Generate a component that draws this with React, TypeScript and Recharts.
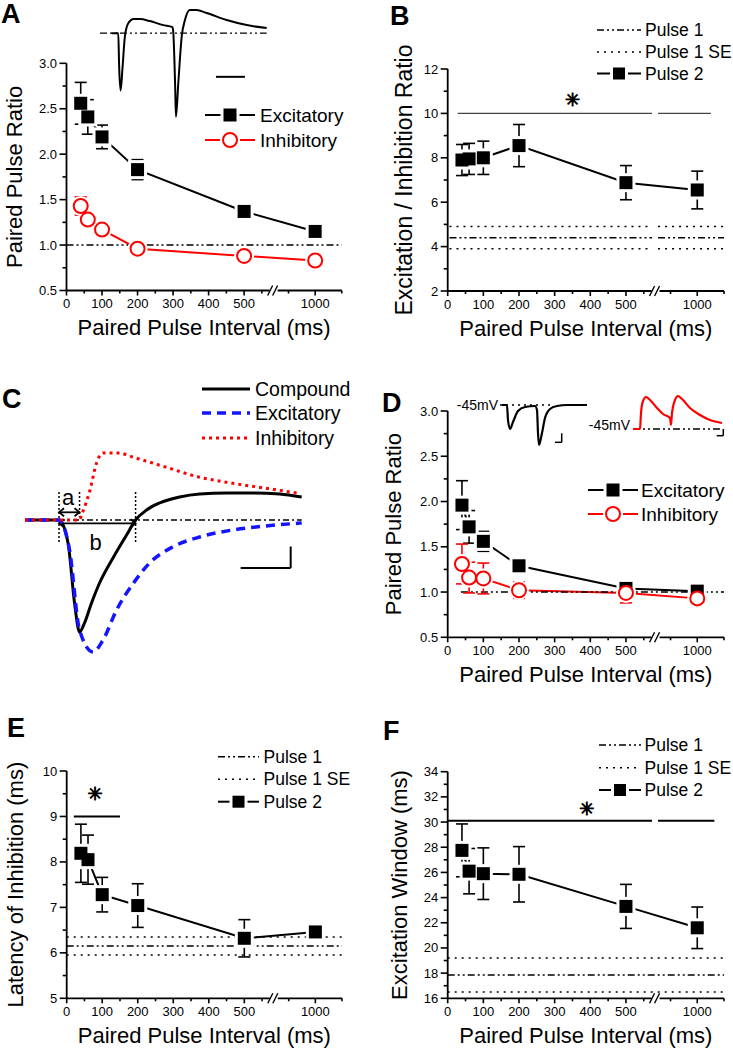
import React from "react";
import { ComposedChart, LineChart, Line, XAxis, YAxis, ErrorBar, ReferenceLine, ReferenceDot, ReferenceArea } from "recharts";

const FONT = '"Liberation Sans", Arial, Helvetica, sans-serif';
const RED = "#ff0000";
const BLUE = "#1414ff";
const DASHDOT = "7 3 2 3 2 3";
const DOTTED = "2 5";

// paired pulse intervals (ms); the x axis is broken between 550 and 750 ms
const INTERVALS = [40, 60, 100, 200, 500, 1000];
const X_MAJOR_MS = [0, 100, 200, 300, 400, 500, 1000];
const X_MINOR_MS = [50, 150, 250, 350, 450, 550, 750, 1250];
const X_END_MS = 1250;

// A  paired pulse ratio, voltage clamp
const A_EXC = [2.56, 2.41, 2.19, 1.83, 1.37, 1.15];
const A_EXC_SE = [0.23, 0.19, 0.13, 0.11, 0.03, 0.03];
const A_INH = [1.43, 1.28, 1.17, 0.96, 0.88, 0.83];
const A_INH_SE = [0.1, 0.08, 0.08, 0.05, 0.03, 0.03];

// B  excitation / inhibition ratio
const B_P2 = [7.9, 7.95, 8.0, 8.55, 6.88, 6.55];
const B_P2_SE = [0.7, 0.7, 0.75, 0.95, 0.77, 0.85];
const B_P1 = 4.4;
const B_P1_SE = 0.5;

// D  paired pulse ratio at -45 mV
const D_EXC = [1.96, 1.72, 1.56, 1.29, 1.04, 1.01];
const D_EXC_SE = [0.27, 0.18, 0.11, 0.04, 0.05, 0.03];
const D_INH = [1.31, 1.16, 1.15, 1.02, 0.99, 0.93];
const D_INH_SE = [0.22, 0.17, 0.17, 0.09, 0.11, 0.04];

// E  latency of inhibition (ms)
const E_P2 = [8.19, 8.05, 7.28, 7.04, 6.32, 6.46];
const E_P2_SE = [0.64, 0.54, 0.38, 0.48, 0.41, 0.05];
const E_P1 = 6.15;
const E_P1_SE = 0.2;

// F  excitation window (ms)
const F_P2 = [27.75, 26.1, 25.9, 25.85, 23.3, 21.6];
const F_P2_SE = [2.1, 1.8, 2.05, 2.2, 1.75, 1.65];
const F_P1 = 17.85;
const F_P1_SE = 1.35;

// example traces [t, v]
const A_TRACE: [number, number][] = [
  [4, 0], [6.3, 0], [6.6, -3.3], [7.1, -5.7], [7.8, -3.3], [8.6, -0.3], [9.8, 1.0], [11.5, 1.4],
  [13.8, 1.4], [17.2, 1.2], [21.8, 0.8], [25.0, 0.6], [25.3, 0], [25.9, -5.0], [26.2, -8.3],
  [27.0, -5.0], [28.2, -0.3], [29.3, 1.3], [31.0, 2.3], [33.3, 2.3], [36.8, 2.0], [43.7, 1.3],
  [50.6, 0.8], [57.5, 0.5],
];
const D_EXC_TRACE: [number, number][] = [
  [2, 0], [7, 0], [8, -15], [10, -24], [13, -17], [18, -6], [25, -2], [35, -1], [37, -5], [38, -28],
  [39, -40], [42, -28], [45, -13], [50, -4], [57, -1], [67, 0], [87, 0],
];
const D_INH_TRACE: [number, number][] = [
  [0, 0], [7, 0], [8, 16], [10, 28], [13, 32], [17, 29], [24, 21], [30, 15], [37, 11], [38, 4],
  [39, 16], [42, 29], [45, 33], [49, 30], [57, 21], [67, 14], [77, 9], [89, 6],
];
const C_COMPOUND: [number, number][] = [
  [-6.8, 0], [0, 0], [1.8, -2.3], [3.1, -8.3], [4.1, -11.2], [5.1, -10.3], [6.5, -8.3], [8.1, -6.3],
  [10.9, -3.7], [13.5, -1.5], [15.3, 0], [17.5, 1.0], [20.1, 1.7], [24.1, 2.3], [28.1, 2.6],
  [33.5, 2.7], [38.9, 2.7], [44.1, 2.6], [48.5, 2.3],
];
const C_EXCITATORY: [number, number][] = [
  [-6.8, 0], [0, 0], [2.1, -3.0], [4.1, -11.0], [6.8, -13.2], [8.8, -12.0], [11.5, -9.0],
  [14.9, -6.3], [18.1, -4.3], [22.7, -2.7], [28.1, -1.7], [34.7, -1.0], [41.3, -0.6], [48.5, -0.3],
];
const C_INHIBITORY: [number, number][] = [
  [-6.8, 0], [4.1, 0], [4.5, 0.5], [6.2, 3.0], [7.5, 5.7], [8.8, 6.7], [12.0, 6.7], [14.7, 6.3],
  [21.3, 5.3], [27.9, 4.3], [34.4, 3.7], [41.0, 3.2], [47.6, 2.7],
];

// broken axis: linear to 550 ms, compressed around 1000 ms after the break
const toPos = (ms: number) => (ms <= 550 ? ms : 700 + (ms - 1000) * 0.3);
const X_END = toPos(X_END_MS);
const BREAK_POS = 583;
const GAP_LO = 573;
const GAP_HI = 590;
const MAJOR_LABEL = new Map(X_MAJOR_MS.map((ms) => [toPos(ms), String(ms)]));
const X_TICKS = [...X_MAJOR_MS, ...X_MINOR_MS].map(toPos).concat(BREAK_POS).sort((a, b) => a - b);

const range = (a: number, b: number, step: number) => {
  const out: number[] = [];
  for (let v = a; v <= b + 1e-9; v += step) out.push(Math.round(v * 1000) / 1000);
  return out;
};

function XTick(p: any) {
  const { x, y } = p;
  const v = p.payload?.value;
  if (v === BREAK_POS) {
    return (
      <g>
        <rect x={x - 4} y={y - 3} width={8} height={6} fill="#fff" />
        <line x1={x - 6} y1={y + 5} x2={x - 1} y2={y - 5} stroke="#000" strokeWidth={1.4} />
        <line x1={x - 1} y1={y + 5} x2={x + 4} y2={y - 5} stroke="#000" strokeWidth={1.4} />
      </g>
    );
  }
  const label = MAJOR_LABEL.get(v);
  return (
    <g>
      <line x1={x} y1={y} x2={x} y2={y + (label ? 5 : 3)} stroke="#000" strokeWidth={1.6} />
      {label && (
        <text x={x} y={y + 13} dy="0.35em" textAnchor="middle" fontSize={13} fontFamily={FONT} fill="#000">
          {label}
        </text>
      )}
    </g>
  );
}

const makeYTick = (major: number[], digits: number) => (p: any) => {
  const { x, y } = p;
  const v = p.payload?.value;
  const isMajor = major.some((m) => Math.abs(m - v) < 1e-6);
  return (
    <g>
      <line x1={x - (isMajor ? 7 : 4)} y1={y} x2={x} y2={y} stroke="#000" strokeWidth={1.6} />
      {isMajor && (
        <text x={x - 9.5} y={y} dy="0.35em" textAnchor="end" fontSize={13} fontFamily={FONT} fill="#000">
          {Number(v).toFixed(digits)}
        </text>
      )}
    </g>
  );
};

type Marker = "square" | "circle";
const haloDot = (m: Marker) => (p: any) => {
  if (p.cx == null || p.cy == null) return <g key={p.index} />;
  return m === "square" ? (
    <rect key={p.index} x={p.cx - 9.5} y={p.cy - 9.5} width={19} height={19} fill="#fff" />
  ) : (
    <circle key={p.index} cx={p.cx} cy={p.cy} r={10} fill="#fff" />
  );
};
const markerDot = (m: Marker, color: string) => (p: any) => {
  if (p.cx == null || p.cy == null) return <g key={p.index} />;
  return m === "square" ? (
    <rect key={p.index} x={p.cx - 6.5} y={p.cy - 6.5} width={13} height={13} fill={color} />
  ) : (
    <circle key={p.index} cx={p.cx} cy={p.cy} r={7} fill="#fff" stroke={color} strokeWidth={2} />
  );
};

type Series = { values: number[]; errors: number[]; color: string; marker: Marker };
type Seg = { y: number; from: number; to: number; dash?: string; width: number; color: string };
type PanelProps = {
  box: { left: number; top: number; width: number; height: number };
  plot: { left: number; top: number; right: number; bottom: number };
  yDomain: [number, number];
  yStep: number;
  yDigits: number;
  yTitle: string;
  yTitleDist: number;
  yTitleSize?: number;
  series: Series[];
  segs: Seg[];
  star?: { x: number; y: number };
};

// axes need a non-zero size to be drawn; they take 1px out of the margins
const AXIS_PX = 1;

function Panel({ box, plot, yDomain, yStep, yDigits, yTitle, yTitleDist, yTitleSize = 22, series, segs, star }: PanelProps) {
  const margin = {
    left: plot.left - box.left - AXIS_PX,
    top: plot.top - box.top,
    right: box.left + box.width - plot.right,
    bottom: box.top + box.height - plot.bottom - AXIS_PX,
  };
  const plotW = plot.right - plot.left;
  const plotH = plot.bottom - plot.top;
  const pl = plot.left - box.left;
  const pt = plot.top - box.top;
  const yMajor = range(yDomain[0], yDomain[1], yStep);
  const yTicks = range(yDomain[0], yDomain[1], yStep / 2);
  const ySpan = yDomain[1] - yDomain[0];
  const rows = INTERVALS.map((ms, i) => {
    const r: Record<string, number> = { x: toPos(ms) };
    series.forEach((s, j) => {
      r[`v${j}`] = s.values[i];
      r[`e${j}`] = s.errors[i];
    });
    return r;
  });
  const xTitle = () => (
    <text x={pl + plotW / 2} y={pt + plotH + 37} dy="0.35em" textAnchor="middle" fontSize={22} fontFamily={FONT} fill="#000">
      Paired Pulse Interval (ms)
    </text>
  );
  const cx = pl - yTitleDist;
  const cy = pt + plotH / 2;
  const yTitleEl = () => (
    <text x={cx} y={cy} dy="0.35em" transform={`rotate(-90 ${cx} ${cy})`} textAnchor="middle" fontSize={yTitleSize} fontFamily={FONT} fill="#000">
      {yTitle}
    </text>
  );
  return (
    <div style={{ position: "absolute", left: box.left, top: box.top }}>
      <ComposedChart width={box.width} height={box.height} data={rows} margin={margin}>
        <XAxis
          type="number"
          dataKey="x"
          domain={[0, X_END]}
          ticks={X_TICKS}
          interval={0}
          height={AXIS_PX}
          tickSize={0}
          tickMargin={0}
          tickLine={false}
          axisLine={{ stroke: "#000", strokeWidth: 1.8 }}
          tick={(p: any) => <XTick {...p} />}
          label={xTitle}
        />
        <YAxis
          type="number"
          domain={yDomain}
          ticks={yTicks}
          interval={0}
          width={AXIS_PX}
          tickSize={0}
          tickMargin={0}
          tickLine={false}
          axisLine={{ stroke: "#000", strokeWidth: 1.8 }}
          tick={makeYTick(yMajor, yDigits)}
          label={yTitleEl}
        />
        {series.map((s, j) => (
          <Line
            key={`l${j}`}
            dataKey={`v${j}`}
            type="linear"
            stroke={s.color}
            strokeWidth={2}
            dot={haloDot(s.marker)}
            activeDot={false}
            isAnimationActive={false}
          />
        ))}
        {/* connecting lines are interrupted where the axis is broken */}
        <ReferenceArea
          x1={GAP_LO + 2}
          x2={GAP_HI - 2}
          y1={yDomain[0] + ySpan * 0.03}
          y2={yDomain[1]}
          fill="#fff"
          fillOpacity={1}
          stroke="none"
        />
        {segs.map((s, i) => (
          <ReferenceLine
            key={`s${i}`}
            segment={[{ x: s.from, y: s.y }, { x: s.to, y: s.y }]}
            stroke={s.color}
            strokeWidth={s.width}
            strokeDasharray={s.dash}
            ifOverflow="visible"
          />
        ))}
        {star && (
          <ReferenceDot
            x={star.x}
            y={star.y}
            r={4}
            ifOverflow="visible"
            shape={(p: any) => (
              <text x={p.cx} y={p.cy} dy="0.35em" textAnchor="middle" fontSize={18} fontFamily="DejaVu Sans" fill="#000" stroke="#000" strokeWidth={0.9}>
                ✳
              </text>
            )}
          />
        )}
        {series.map((s, j) => (
          <Line
            key={`m${j}`}
            dataKey={`v${j}`}
            type="linear"
            stroke="none"
            strokeWidth={0}
            dot={markerDot(s.marker, s.color)}
            activeDot={false}
            isAnimationActive={false}
          >
            <ErrorBar dataKey={`e${j}`} width={6} stroke={s.color} strokeWidth={1.6} direction="y" isAnimationActive={false} />
          </Line>
        ))}
      </ComposedChart>
    </div>
  );
}

type Trace = { data: [number, number][]; color: string; width: number; dash?: string };
type TraceProps = {
  plot: { left: number; top: number; right: number; bottom: number };
  xDomain: [number, number];
  yDomain: [number, number];
  traces: Trace[];
  children?: React.ReactNode;
};

function TraceChart({ plot, xDomain, yDomain, traces, children }: TraceProps) {
  const pad = 8;
  const w = plot.right - plot.left;
  const h = plot.bottom - plot.top;
  return (
    <div style={{ position: "absolute", left: plot.left - pad, top: plot.top - pad }}>
      <LineChart width={w + 2 * pad} height={h + 2 * pad} margin={{ top: pad, right: pad, bottom: pad, left: pad }}>
        <XAxis type="number" dataKey="t" domain={xDomain} hide />
        <YAxis type="number" dataKey="v" domain={yDomain} hide />
        {children}
        {traces.map((tr, i) => (
          <Line
            key={i}
            data={tr.data.map(([t, v]) => ({ t, v }))}
            dataKey="v"
            type="monotone"
            stroke={tr.color}
            strokeWidth={tr.width}
            strokeDasharray={tr.dash}
            dot={false}
            activeDot={false}
            isAnimationActive={false}
          />
        ))}
      </LineChart>
    </div>
  );
}

const seg = (x1: number, y1: number, x2: number, y2: number, key: string, extra: any = {}) => (
  <ReferenceLine
    key={key}
    segment={[{ x: x1, y: y1 }, { x: x2, y: y2 }]}
    stroke="#000"
    strokeWidth={2}
    ifOverflow="visible"
    {...extra}
  />
);

const arrowShape = (p: any) => {
  const { x1, y1, x2, y2 } = p;
  const a = Math.min(x1, x2);
  const b = Math.max(x1, x2);
  const h = 5;
  return (
    <g stroke="#000" strokeWidth={1.8} fill="none">
      <line x1={a} y1={y1} x2={b} y2={y2} />
      <polyline points={`${a + h},${y1 - 4} ${a},${y1} ${a + h},${y1 + 4}`} />
      <polyline points={`${b - h},${y2 - 4} ${b},${y2} ${b - h},${y2 + 4}`} />
    </g>
  );
};

const letterShape = (ch: string) => (p: any) => (
  <text x={p.cx} y={p.cy} dy="0.35em" textAnchor="middle" fontSize={22} fontFamily={FONT} fill="#000">
    {ch}
  </text>
);

type Sym = { kind: "marker"; marker: Marker; color: string; size: number } | { kind: "line"; color: string; width: number; dash?: string };
type KeyRow = { y: number; label: string; sym: Sym };
function KeyRows({ x0, x1, tx, size, rows }: { x0: number; x1: number; tx: number; size: number; rows: KeyRow[] }) {
  const mid = (x0 + x1) / 2;
  return (
    <g>
      {rows.map((r) => (
        <g key={r.label}>
          {r.sym.kind === "line" ? (
            <line x1={x0} y1={r.y} x2={x1} y2={r.y} stroke={r.sym.color} strokeWidth={r.sym.width} strokeDasharray={r.sym.dash} />
          ) : (
            <g>
              <line x1={x0} y1={r.y} x2={mid - r.sym.size / 2 - 3} y2={r.y} stroke={r.sym.color} strokeWidth={2} />
              <line x1={mid + r.sym.size / 2 + 3} y1={r.y} x2={x1} y2={r.y} stroke={r.sym.color} strokeWidth={2} />
              {r.sym.marker === "square" ? (
                <rect x={mid - r.sym.size / 2} y={r.y - r.sym.size / 2} width={r.sym.size} height={r.sym.size} fill={r.sym.color} />
              ) : (
                <circle cx={mid} cy={r.y} r={r.sym.size / 2} fill="#fff" stroke={r.sym.color} strokeWidth={2} />
              )}
            </g>
          )}
          <text x={tx} y={r.y} dy="0.35em" fontSize={size} fontFamily={FONT} fill="#000">
            {r.label}
          </text>
        </g>
      ))}
    </g>
  );
}

const pulseRows = (ys: number[]): KeyRow[] => [
  { y: ys[0], label: "Pulse 1", sym: { kind: "line", color: "#000", width: 1.5, dash: DASHDOT } },
  { y: ys[1], label: "Pulse 1 SE", sym: { kind: "line", color: "#000", width: 1.5, dash: DOTTED } },
  { y: ys[2], label: "Pulse 2", sym: { kind: "marker", marker: "square", color: "#000", size: 12 } },
];
const eiRows = (ys: number[]): KeyRow[] => [
  { y: ys[0], label: "Excitatory", sym: { kind: "marker", marker: "square", color: "#000", size: 13 } },
  { y: ys[1], label: "Inhibitory", sym: { kind: "marker", marker: "circle", color: RED, size: 14 } },
];

const LETTERS = [
  { ch: "A", x: 1, y: 23 },
  { ch: "B", x: 390, y: 25 },
  { ch: "C", x: 2, y: 408 },
  { ch: "D", x: 382, y: 411.5 },
  { ch: "E", x: 7, y: 736.5 },
  { ch: "F", x: 383, y: 740 },
];

const p1Segs = (p1: number, se: number, from: number, gap: boolean): Seg[] => {
  const spans = gap ? [[from, GAP_LO], [GAP_HI, X_END]] : [[from, X_END]];
  const out: Seg[] = [];
  spans.forEach(([a, b]) => {
    out.push({ y: p1, from: a, to: b, dash: DASHDOT, width: 1.5, color: "#000" });
    out.push({ y: p1 + se, from: a, to: b, dash: DOTTED, width: 1.5, color: "#000" });
    out.push({ y: p1 - se, from: a, to: b, dash: DOTTED, width: 1.5, color: "#000" });
  });
  return out;
};

export default function App() {
  return (
    <div style={{ position: "absolute", left: 0, top: 0, width: 733, height: 1050, background: "#fff", overflow: "hidden", fontFamily: FONT }}>
      <Panel
        box={{ left: 0, top: 0, width: 366, height: 345 }}
        plot={{ left: 66.5, top: 63.3, right: 341.8, bottom: 290.5 }}
        yDomain={[0.5, 3]}
        yStep={0.5}
        yDigits={1}
        yTitle="Paired Pulse Ratio"
        yTitleDist={52}
        series={[
          { values: A_EXC, errors: A_EXC_SE, color: "#000", marker: "square" },
          { values: A_INH, errors: A_INH_SE, color: RED, marker: "circle" },
        ]}
        segs={[{ y: 1, from: 0, to: X_END, dash: DASHDOT, width: 1.5, color: "#000" }]}
      />
      <Panel
        box={{ left: 366, top: 0, width: 367, height: 345 }}
        plot={{ left: 447.7, top: 69, right: 724, bottom: 291 }}
        yDomain={[2, 12]}
        yStep={2}
        yDigits={0}
        yTitle="Excitation / Inhibition Ratio"
        yTitleDist={44}
        yTitleSize={23}
        series={[{ values: B_P2, errors: B_P2_SE, color: "#000", marker: "square" }]}
        segs={[
          ...p1Segs(B_P1, B_P1_SE, 5, true),
          { y: 10, from: 28, to: GAP_LO, width: 1.2, color: "#444" },
          { y: 10, from: GAP_HI, to: 738, width: 1.2, color: "#444" },
        ]}
        star={{ x: 350, y: 10.6 }}
      />
      <Panel
        box={{ left: 366, top: 345, width: 367, height: 345 }}
        plot={{ left: 447.7, top: 411, right: 724, bottom: 637.3 }}
        yDomain={[0.5, 3]}
        yStep={0.5}
        yDigits={1}
        yTitle="Paired Pulse Ratio"
        yTitleDist={54}
        series={[
          { values: D_EXC, errors: D_EXC_SE, color: "#000", marker: "square" },
          { values: D_INH, errors: D_INH_SE, color: RED, marker: "circle" },
        ]}
        segs={[{ y: 1, from: 37, to: X_END, dash: DASHDOT, width: 1.5, color: "#000" }]}
      />
      <Panel
        box={{ left: 0, top: 690, width: 366, height: 360 }}
        plot={{ left: 66.7, top: 771, right: 342, bottom: 998.3 }}
        yDomain={[5, 10]}
        yStep={1}
        yDigits={0}
        yTitle="Latency of Inhibition (ms)"
        yTitleDist={51}
        series={[{ values: E_P2, errors: E_P2_SE, color: "#000", marker: "square" }]}
        segs={[...p1Segs(E_P1, E_P1_SE, 0, false), { y: 9, from: 20, to: 150, width: 2, color: "#000" }]}
        star={{ x: 80, y: 9.5 }}
      />
      <Panel
        box={{ left: 366, top: 690, width: 367, height: 360 }}
        plot={{ left: 447.7, top: 771.7, right: 724, bottom: 998.3 }}
        yDomain={[16, 34]}
        yStep={2}
        yDigits={0}
        yTitle="Excitation Window (ms)"
        yTitleDist={48}
        series={[{ values: F_P2, errors: F_P2_SE, color: "#000", marker: "square" }]}
        segs={[
          ...p1Segs(F_P1, F_P1_SE, 0, false),
          { y: 30.1, from: 0, to: GAP_LO, width: 2, color: "#000" },
          { y: 30.1, from: GAP_HI, to: 748, width: 2, color: "#000" },
        ]}
        star={{ x: 390, y: 31.1 }}
      />

      {/* A inset: paired excitatory currents */}
      <TraceChart plot={{ left: 100, top: 10, right: 266.7, bottom: 116.7 }} xDomain={[0, 57.5]} yDomain={[-8.3, 2.3]} traces={[{ data: A_TRACE, color: "#000", width: 2 }]}>
        {seg(0, 0, 57.5, 0, "base", { strokeWidth: 1.3, strokeDasharray: DASHDOT })}
        {seg(40, -4.34, 50, -4.34, "bar")}
      </TraceChart>

      {/* D insets at -45 mV */}
      <TraceChart plot={{ left: 500, top: 405, right: 587, bottom: 445 }} xDomain={[0, 87]} yDomain={[-40, 0]} traces={[{ data: D_EXC_TRACE, color: "#000", width: 2.2 }]}>
        {seg(0, 0, 52, 0, "base", { strokeWidth: 1.3, strokeDasharray: "2 4" })}
        {seg(55, -37.3, 61.7, -37.3, "bh", { strokeWidth: 1.5 })}
        {seg(61.7, -28.3, 61.7, -37.3, "bv", { strokeWidth: 1.5 })}
      </TraceChart>
      <TraceChart plot={{ left: 633, top: 396.3, right: 723.3, bottom: 436 }} xDomain={[0, 90.3]} yDomain={[-6.7, 33]} traces={[{ data: D_INH_TRACE, color: RED, width: 2.2 }]}>
        {seg(0, 0, 89, 0, "base", { strokeWidth: 1.3, strokeDasharray: DASHDOT })}
        {seg(83.7, -6.7, 90.3, -6.7, "bh", { strokeWidth: 1.5 })}
        {seg(90.3, 0, 90.3, -6.7, "bv", { strokeWidth: 1.5 })}
      </TraceChart>

      {/* C schematic */}
      <TraceChart
        plot={{ left: 25, top: 440, right: 301.7, bottom: 660 }}
        xDomain={[-6.8, 48.5]}
        yDomain={[-14, 8]}
        traces={[
          { data: C_COMPOUND, color: "#000", width: 3 },
          { data: C_EXCITATORY, color: BLUE, width: 3.5, dash: "9 6" },
          { data: C_INHIBITORY, color: RED, width: 3, dash: "3 4" },
        ]}
      >
        {seg(0, 0, 48.5, 0, "base", { strokeWidth: 1.3, strokeDasharray: "6 3 2 3" })}
        {seg(0, 2.8, 0, -2.3, "v1", { strokeWidth: 1.5, strokeDasharray: "2 2" })}
        {seg(4.1, 2.8, 4.1, 0.3, "v2", { strokeWidth: 1.5, strokeDasharray: "2 2" })}
        {seg(15.3, 2.8, 15.3, -2.3, "v3", { strokeWidth: 1.5, strokeDasharray: "2 2" })}
        {seg(0, 0.77, 4.1, 0.77, "arA", { shape: arrowShape })}
        {seg(0, -0.33, 15.3, -0.33, "arB", { shape: arrowShape })}
        {seg(36.3, -4.8, 46.3, -4.8, "sbh")}
        {seg(46.3, -4.8, 46.3, -2.65, "sbv")}
        <ReferenceDot x={1.8} y={2.3} r={3} ifOverflow="visible" shape={letterShape("a")} />
        <ReferenceDot x={7.3} y={-2.2} r={3} ifOverflow="visible" shape={letterShape("b")} />
      </TraceChart>

      <svg width={733} height={1050} style={{ position: "absolute", left: 0, top: 0, pointerEvents: "none" }}>
        {LETTERS.map((l) => (
          <text key={l.ch} x={l.x} y={l.y} fontSize={27} fontWeight="bold" fontFamily={FONT} fill="#000">
            {l.ch}
          </text>
        ))}
        <text x={498} y={405} dy="0.35em" textAnchor="end" fontSize={14} fontFamily={FONT} fill="#000">-45mV</text>
        <text x={630} y={425} dy="0.35em" textAnchor="end" fontSize={14} fontFamily={FONT} fill="#000">-45mV</text>
        <KeyRows x0={205} x1={255} tx={260} size={19} rows={eiRows([115, 140])} />
        <KeyRows x0={588} x1={638} tx={641} size={19} rows={eiRows([490, 514])} />
        <KeyRows x0={597} x1={641} tx={645} size={17.5} rows={pulseRows([30, 52, 73.5])} />
        <KeyRows x0={218} x1={259} tx={263.5} size={17.5} rows={pulseRows([756.7, 779.3, 801.7])} />
        <KeyRows x0={599} x1={641} tx={644.5} size={17.5} rows={pulseRows([745, 767.7, 790])} />
        <KeyRows
          x0={202}
          x1={250}
          tx={255}
          size={19.5}
          rows={[
            { y: 389, label: "Compound", sym: { kind: "line", color: "#000", width: 3 } },
            { y: 413, label: "Excitatory", sym: { kind: "line", color: BLUE, width: 3.5, dash: "9 6" } },
            { y: 438, label: "Inhibitory", sym: { kind: "line", color: RED, width: 3, dash: "3 4" } },
          ]}
        />
      </svg>
    </div>
  );
}
